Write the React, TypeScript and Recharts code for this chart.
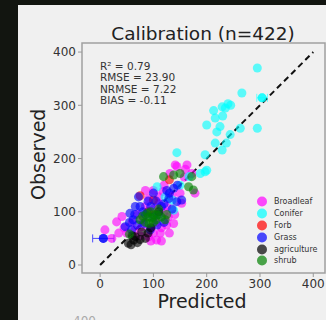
import { ScatterChart, Scatter, XAxis, YAxis, ZAxis, ReferenceLine, ReferenceArea, ErrorBar } from 'recharts'

const xTicks = [0, 100, 200, 300, 400]
const yTicks = [0, 100, 200, 300, 400]

const stats = ['R² = 0.79', 'RMSE = 23.90', 'NRMSE = 7.22', 'BIAS = -0.11']

const broadleaf = [
  [9, 66], [22, 50], [35, 60], [31, 81], [41, 91], [78, 72], [91, 53], [106, 47], [113, 60], [125, 75],
  [138, 78], [110, 128], [91, 125], [153, 116], [141, 188], [163, 188], [172, 172], [178, 135], [144, 185],
  [131, 172], [100, 105], [120, 100], [60, 80], [85, 110], [118, 138], [100, 60], [70, 95], [128, 90],
  [140, 95], [75, 55], [96, 70], [50, 60], [115, 45], [160, 180], [45, 70], [65, 65], [80, 85], [105, 80],
  [115, 70], [130, 60], [95, 45], [110, 115], [125, 110], [135, 130], [150, 135], [100, 140], [85, 140],
  [120, 150], [158, 165]
]
const conifer = [
  [295, 370], [304, 314], [266, 323], [229, 297], [240, 303], [235, 295], [245, 300], [213, 290], [200, 263],
  [216, 276], [263, 257], [295, 257], [244, 245], [219, 250], [216, 229], [237, 229], [229, 216], [197, 207],
  [144, 211], [200, 178], [188, 172], [167, 166], [107, 147], [122, 128], [138, 103], [135, 122], [150, 150],
  [197, 175], [225, 260], [230, 280]
]
const forb = [[100, 122], [75, 130], [130, 160], [90, 100]]
const grass = [
  [6, 50], [47, 72], [59, 66], [94, 66], [107, 75], [82, 78], [72, 128], [66, 110], [56, 97], [129, 125],
  [144, 119], [138, 144], [153, 122], [80, 100], [100, 90], [115, 110], [62, 85], [90, 120], [130, 135],
  [145, 150], [120, 80], [70, 75], [75, 110], [85, 95], [95, 110], [105, 120], [110, 95], [120, 115],
  [65, 95], [55, 80], [100, 135], [125, 140], [135, 105]
]
const agriculture = [
  [66, 53], [53, 41], [63, 47], [85, 50], [78, 62], [58, 38], [70, 42], [95, 70], [110, 100], [60, 55],
  [75, 48], [90, 60]
]
const shrub = [
  [119, 166], [138, 169], [150, 172], [172, 166], [166, 147], [175, 141], [88, 97], [75, 85], [97, 88],
  [107, 94], [122, 85], [85, 80], [95, 100], [110, 105], [100, 80], [55, 58], [90, 90], [100, 95],
  [80, 92], [105, 85], [115, 90], [92, 78], [125, 95]
]

// points that carry a horizontal error bar
const grassErr = [{ x: 6, y: 50, err: 20 }]
const coniferErr = [{ x: 304, y: 314, err: 10 }]

const groups = [
  { name: 'Broadleaf', color: '#ff00ff', pts: broadleaf },
  { name: 'Conifer', color: '#00ffff', pts: conifer },
  { name: 'Forb', color: '#ff0000', pts: forb },
  { name: 'Grass', color: '#0000ff', pts: grass },
  { name: 'agriculture', color: '#000000', pts: agriculture },
  { name: 'shrub', color: '#008000', pts: shrub }
]

const font = 'DejaVu Sans, sans-serif'

function LegendBox() {
  return (
    <div style={{ position: 'absolute', left: 256, top: 196, fontFamily: font, fontSize: 8, color: '#333' }}>
      {groups.map(g => (
        <div key={g.name} style={{ display: 'flex', alignItems: 'center', height: 11.8 }}>
          <svg width={12} height={11} style={{ marginRight: 6 }}>
            <circle cx={6} cy={5.5} r={5} fill={g.color} fillOpacity={0.7} />
          </svg>
          <span>{g.name}</span>
        </div>
      ))}
    </div>
  )
}

export default function App() {
  return (
    <div style={{ position: 'fixed', left: 0, top: 0, width: 326, height: 320, background: '#121510', overflow: 'hidden' }}>
      <div style={{ position: 'absolute', left: 18, top: 5, width: 308, height: 315, background: '#f0f0f0' }} />
      <div style={{ position: 'absolute', left: 0, top: 23, width: 406, textAlign: 'center', fontFamily: font, fontSize: 18.5, color: '#222' }}>
        Calibration (n=422)
      </div>
      <div style={{ position: 'absolute', left: 0, top: 0 }}>
        <ScatterChart width={326} height={320} margin={{ top: 43, right: 1, bottom: 27, left: 52 }}>
          <XAxis
            type="number"
            dataKey="x"
            domain={[-34, 422]}
            allowDataOverflow
            ticks={xTicks}
            axisLine={false}
            tickSize={4}
            tickLine={{ stroke: '#999' }}
            tick={{ fontSize: 12, fill: '#333', fontFamily: font }}
            height={20}
          />
          <YAxis
            type="number"
            dataKey="y"
            domain={[-15, 417]}
            allowDataOverflow
            ticks={yTicks}
            axisLine={false}
            tickSize={4}
            tickLine={{ stroke: '#999' }}
            tick={{ fontSize: 12, fill: '#333', fontFamily: font }}
            width={30}
            label={{ value: 'Observed', angle: -90, position: 'insideLeft', offset: -14, dy: 42, fontSize: 19, fill: '#222', fontFamily: font }}
          />
          <ZAxis range={[100, 100]} />
          <ReferenceArea x1={-34} x2={422} y1={-15} y2={417} fill="none" stroke="#a0a0a0" strokeWidth={1.5} />
          {groups.map(g => (
            <Scatter
              key={g.name}
              name={g.name}
              data={g.pts.map(([x, y]) => ({ x, y }))}
              fill={g.color}
              fillOpacity={0.62}
              isAnimationActive={false}
            />
          ))}
          <Scatter data={grassErr} fill="#0000ff" fillOpacity={0.62} isAnimationActive={false} legendType="none">
            <ErrorBar dataKey="err" direction="x" stroke="#4a4aff" width={4} strokeWidth={1} />
          </Scatter>
          <Scatter data={coniferErr} fill="#00ffff" fillOpacity={0.62} isAnimationActive={false} legendType="none">
            <ErrorBar dataKey="err" direction="x" stroke="#66ffff" width={4} strokeWidth={1} />
          </Scatter>
          <ReferenceLine
            segment={[{ x: 0, y: 0 }, { x: 400, y: 400 }]}
            stroke="#111"
            strokeWidth={2}
            strokeDasharray="6 4"
          />
        </ScatterChart>
      </div>
      <div style={{ position: 'absolute', left: 0, top: 292, width: 404, textAlign: 'center', fontFamily: font, fontSize: 19, lineHeight: '19px', color: '#222' }}>
        Predicted
      </div>
      <div style={{ position: 'absolute', left: 100, top: 61, fontFamily: font, fontSize: 10.5, lineHeight: '11.3px', color: '#333' }}>
        {stats.map(s => <div key={s}>{s}</div>)}
      </div>
      <LegendBox />
      <div style={{ position: 'absolute', left: 73, top: 314, fontFamily: font, fontSize: 12, color: '#aaa' }}>400</div>
    </div>
  )
}
